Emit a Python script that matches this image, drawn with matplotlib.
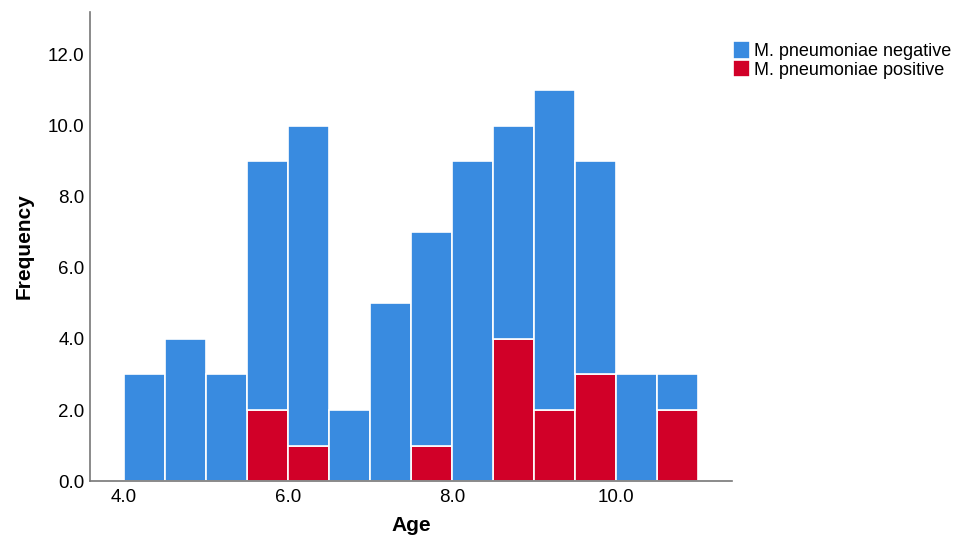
import matplotlib
matplotlib.use('Agg')
import matplotlib.pyplot as plt
import numpy as np

# bin left edges (width 0.5) and counts
bin_left = [4.0, 4.5, 5.0, 5.5, 6.0, 6.5, 7.0, 7.5, 8.0, 8.5, 9.0, 9.5, 10.0, 10.5]
total = [3, 4, 3, 9, 10, 2, 5, 7, 9, 10, 11, 9, 3, 3]
positive = [0, 0, 0, 2, 1, 0, 0, 1, 0, 4, 2, 3, 0, 2]
negative = [t - p for t, p in zip(total, positive)]

x_ticks = [4.0, 6.0, 8.0, 10.0]
y_ticks = [0.0, 2.0, 4.0, 6.0, 8.0, 10.0, 12.0]

plt.rcParams['font.family'] = ['Liberation Sans', 'DejaVu Sans']

blue = '#398BE0'
red = '#D10028'

fig = plt.figure(figsize=(9.6, 5.4), dpi=100)
ax = fig.add_axes([0.094, 0.109, 0.668, 0.869])

ax.bar(bin_left, positive, width=0.5, align='edge', color=red,
       edgecolor='white', linewidth=1.2, label='M. pneumoniae positive')
ax.bar(bin_left, negative, width=0.5, align='edge', bottom=positive, color=blue,
       edgecolor='white', linewidth=1.2, label='M. pneumoniae negative')

ax.set_xlim(3.59, 11.41)
ax.set_ylim(0, 13.2)
ax.set_xticks(x_ticks)
ax.set_xticklabels(['%.1f' % v for v in x_ticks])
ax.set_yticks(y_ticks)
ax.set_yticklabels(['%.1f' % v for v in y_ticks])
ax.tick_params(length=0, labelsize=13.5, pad=4)
ax.tick_params(axis='x', pad=6)

for s in ['top', 'right']:
    ax.spines[s].set_visible(False)
for s in ['left', 'bottom']:
    ax.spines[s].set_color('#777777')
    ax.spines[s].set_linewidth(1.2)

ax.set_xlabel('Age', fontsize=15, fontweight='bold')
ax.set_ylabel('Frequency', fontsize=15, fontweight='bold')
ax.xaxis.set_label_coords(0.5, -0.075)
ax.yaxis.set_label_coords(-0.088, 0.5)

handles, labels = ax.get_legend_handles_labels()
fig.legend(handles[::-1], labels[::-1], loc='upper left', bbox_to_anchor=(0.7565, 0.937),
           frameon=False, fontsize=13, handlelength=0.9, handleheight=1.1,
           handletextpad=0.25, labelspacing=0.0, borderaxespad=0)

fig.savefig('out.png', dpi=100)
